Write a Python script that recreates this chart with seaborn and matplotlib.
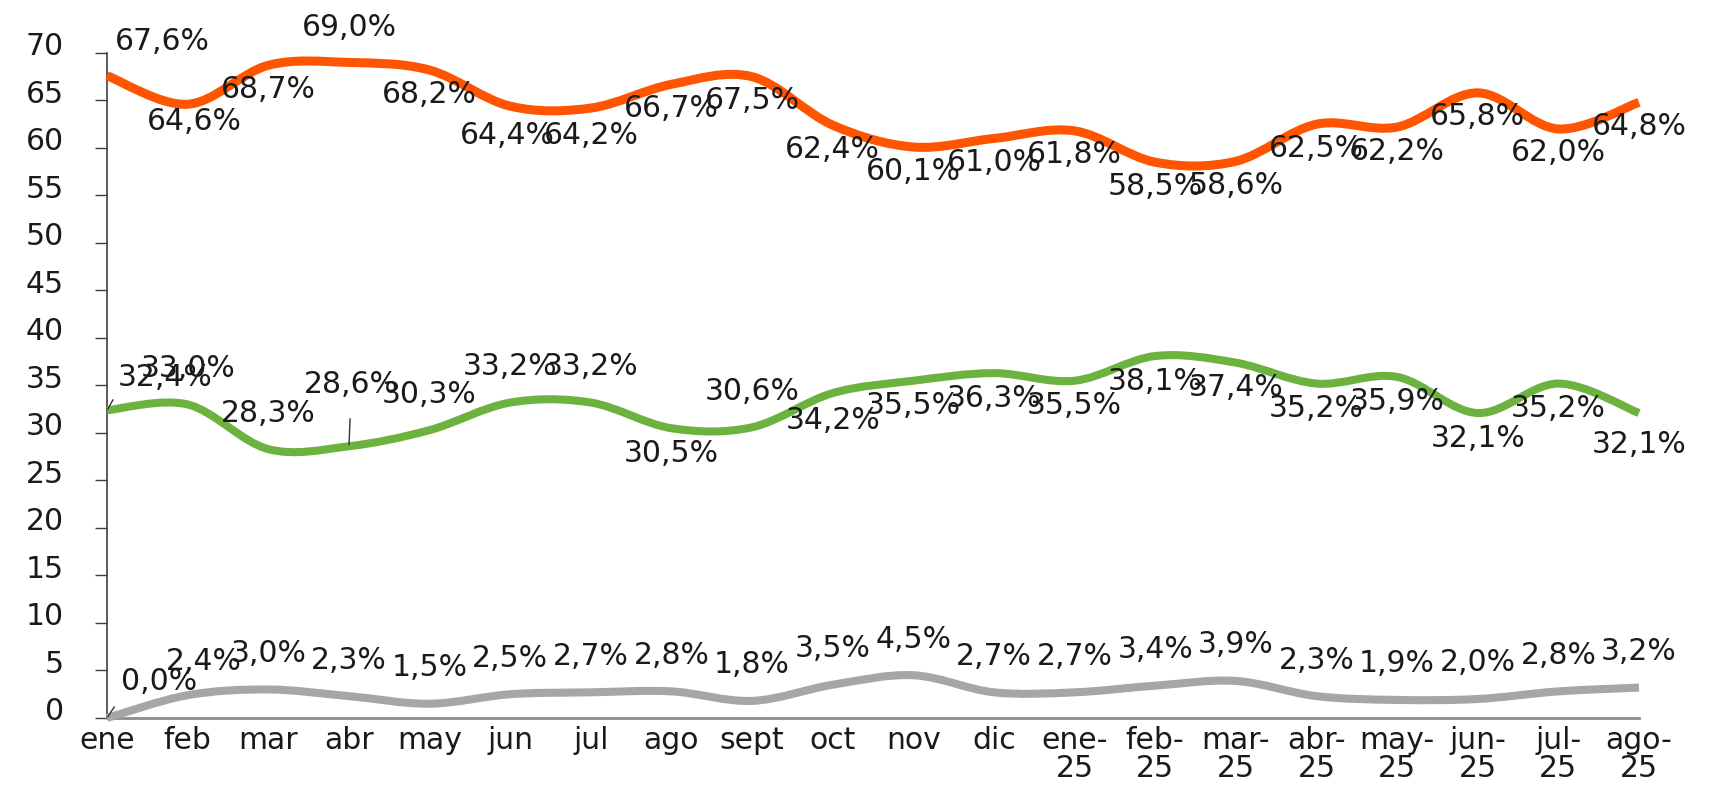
import numpy as np
import matplotlib
matplotlib.use("Agg")
import matplotlib.pyplot as plt
import seaborn as sns
from matplotlib.path import Path
from matplotlib.patches import PathPatch
from matplotlib.transforms import ScaledTranslation

# datos
meses = ["ene", "feb", "mar", "abr", "may", "jun", "jul", "ago", "sept", "oct",
         "nov", "dic", "ene-25", "feb-25", "mar-25", "abr-25", "may-25",
         "jun-25", "jul-25", "ago-25"]
naranja = [67.6, 64.6, 68.7, 69.0, 68.2, 64.4, 64.2, 66.7, 67.5, 62.4,
           60.1, 61.0, 61.8, 58.5, 58.6, 62.5, 62.2, 65.8, 62.0, 64.8]
verde = [32.4, 33.0, 28.3, 28.6, 30.3, 33.2, 33.2, 30.5, 30.6, 34.2,
         35.5, 36.3, 35.5, 38.1, 37.4, 35.2, 35.9, 32.1, 35.2, 32.1]
gris = [0.0, 2.4, 3.0, 2.3, 1.5, 2.5, 2.7, 2.8, 1.8, 3.5,
        4.5, 2.7, 2.7, 3.4, 3.9, 2.3, 1.9, 2.0, 2.8, 3.2]
yticks = list(range(0, 75, 5))

# posiciones de las etiquetas (pixeles respecto al punto)
off_naranja = [(0, -24)] * len(naranja)
off_naranja[0] = (55, 34)
off_naranja[1] = (7, -17)
off_naranja[3] = (0, 35)
off_naranja[5] = (-3, -29)
off_naranja[6] = (0, -27)

off_verde = [(0, -25)] * len(verde)
for i in [1, 2, 4, 5, 6, 8]:
    off_verde[i] = (0, 36)
off_verde[0] = (58, 33)
off_verde[3] = (2, 62)
off_verde[9] = (0, -27)
off_verde[19] = (0, -31)

off_gris = [(0, 36)] * len(gris)
off_gris[0] = (52, 36)
off_gris[1] = (16, 34)

# etiquetas con línea guía: indice -> (relpos, shrinkA)
guias_verde = {0: ((0.0, 0.0), 4), 3: ((0.5, 0.0), 12)}
guias_gris = {0: ((0.0, 0.0), 6)}


def smooth_path(xs, ys):
    """curva suavizada tipo Excel (bezier catmull-rom)"""
    pts = np.column_stack([xs, ys]).astype(float)
    n = len(pts)
    verts = [pts[0]]
    codes = [Path.MOVETO]
    for i in range(n - 1):
        p0 = pts[i - 1] if i > 0 else pts[i]
        p1 = pts[i]
        p2 = pts[i + 1]
        p3 = pts[i + 2] if i + 2 < n else pts[i + 1]
        verts += [p1 + (p2 - p0) / 6, p2 - (p3 - p1) / 6, p2]
        codes += [Path.CURVE4] * 3
    return Path(verts, codes)


sns.set_theme(style="white")
plt.rcParams['font.family'] = ['DejaVu Sans']

fig = plt.figure(figsize=(17.13, 7.87), dpi=100)
ax = fig.add_axes([0.0625, 0.0877, 0.8943, 0.845])

x = np.arange(len(meses))
series = [
    (naranja, "#FF5500", 6.5, off_naranja, {}),
    (verde, "#6BB33E", 5.8, off_verde, guias_verde),
    (gris, "#A6A6A6", 5.8, off_gris, guias_gris),
]

for vals, color, lw, offs, guias in series:
    patch = PathPatch(smooth_path(x, vals), facecolor="none", edgecolor=color,
                      linewidth=lw, capstyle="butt", joinstyle="round",
                      clip_on=False, zorder=3)
    ax.add_patch(patch)
    for i, v in enumerate(vals):
        txt = f"{v:.1f}%".replace(".", ",")
        kw = {}
        if i in guias:
            relpos, shr = guias[i]
            kw["arrowprops"] = dict(arrowstyle="-", color="#333333", lw=1.0,
                                    relpos=relpos, shrinkA=shr, shrinkB=1)
        ax.annotate(txt, xy=(i, v), xytext=offs[i], textcoords="offset pixels",
                    ha="center", va="center", fontsize=21.5, color="#1a1a1a",
                    annotation_clip=False, zorder=4, **kw)

ax.set_xlim(0, len(meses) - 1)
ax.set_ylim(0, 70)
ax.set_yticks(yticks)
ax.set_yticklabels([str(t) for t in yticks])
ax.set_xticks(x)
ax.set_xticklabels([m.replace("-", "-\n") for m in meses], linespacing=0.95)

sns.despine(ax=ax)
ax.spines["left"].set_color("#404040")
ax.spines["left"].set_linewidth(1.2)
ax.spines["bottom"].set_color("#8c8c8c")
ax.spines["bottom"].set_linewidth(2.0)

ax.tick_params(axis="y", which="major", left=True, length=9, width=1.0,
               color="#404040", labelsize=21.5, labelcolor="#1a1a1a", pad=22)
ax.tick_params(axis="x", which="major", bottom=False, length=0,
               labelsize=21.5, labelcolor="#1a1a1a", pad=6)

# las cifras del eje y van un poco por encima de la marca
shift = ScaledTranslation(0, 0.09, fig.dpi_scale_trans)
for lab in ax.get_yticklabels():
    lab.set_transform(lab.get_transform() + shift)

ax.grid(False)
fig.savefig("out.png", dpi=100)
